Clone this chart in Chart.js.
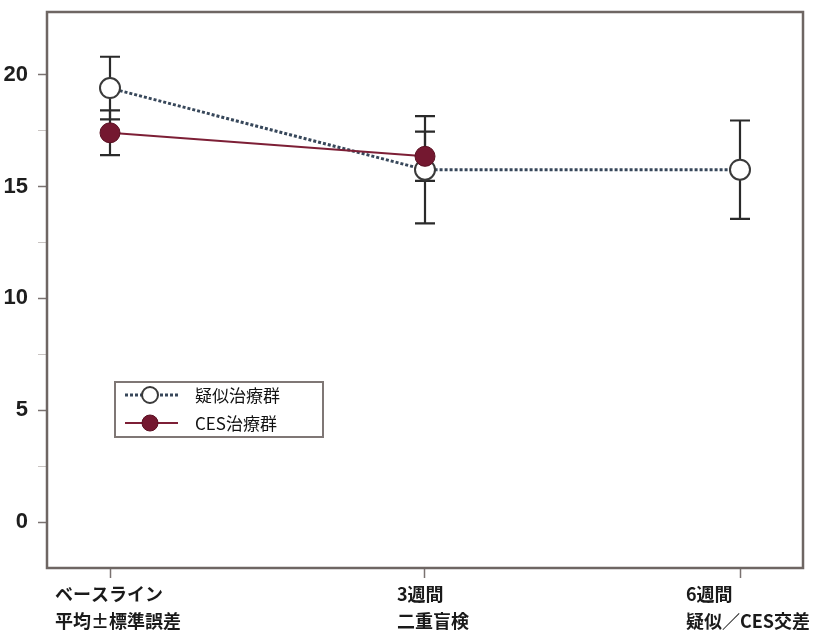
<!DOCTYPE html>
<html>
<head>
<meta charset="utf-8">
<script src="https://cdn.jsdelivr.net/npm/chart.js@4.4.1/dist/chart.umd.min.js"></script>
<style>
  html, body { margin: 0; padding: 0; background: #ffffff; }
  #wrap { width: 821px; height: 630px; position: relative; }
</style>
</head>
<body>
<div id="wrap"><canvas id="c" width="821" height="630"></canvas></div>
<script>
// Time points (two-line axis labels)
const timeLabels = [
  ['ベースライン', '平均±標準誤差'],
  ['3週間', '二重盲検'],
  ['6週間', '疑似／CES交差']
];
const seriesNames = ['疑似治療群', 'CES治療群'];

// Mean scores and standard errors
const shamMean = [19.4, 15.75, 15.75];
const shamSem  = [1.4, 2.4, 2.2];
const cesMean  = [17.4, 16.35];
const cesSem   = [1.0, 1.1];

const yMajorTicks = [0, 5, 10, 15, 20];

const FRAME = '#6e6663';
const SHAM_LINE = '#37475a';
const CES_LINE = '#7d1f36';
const CES_FILL = '#741830';
const BAR = '#2a2a2a';
const CJK = "'Noto Sans CJK JP', 'Noto Sans', sans-serif";
const NUM = "'Liberation Sans Narrow', 'Liberation Sans', Arial, sans-serif";

const toPoints = arr => arr.map((v, i) => ({ x: i, y: v }));

// Error bars (mean ± SE) drawn under the markers
const errorBars = {
  id: 'errorBars',
  beforeDatasetsDraw(chart) {
    const { ctx, scales: { x, y } } = chart;
    const sets = [[shamMean, shamSem], [cesMean, cesSem]];
    ctx.save();
    ctx.strokeStyle = BAR;
    ctx.lineWidth = 2.2;
    const cap = 10;
    sets.forEach(([m, s]) => {
      m.forEach((v, i) => {
        const px = x.getPixelForValue(i);
        const top = y.getPixelForValue(v + s[i]);
        const bot = y.getPixelForValue(v - s[i]);
        ctx.beginPath();
        ctx.moveTo(px, top); ctx.lineTo(px, bot);
        ctx.moveTo(px - cap, top); ctx.lineTo(px + cap, top);
        ctx.moveTo(px - cap, bot); ctx.lineTo(px + cap, bot);
        ctx.stroke();
      });
    });
    ctx.restore();
  }
};

// Frame, category labels and the inset legend
const decorations = {
  id: 'decorations',
  afterDraw(chart) {
    const { ctx, chartArea: a, scales: { x } } = chart;
    ctx.save();
    // plot frame
    ctx.strokeStyle = FRAME;
    ctx.lineWidth = 2.5;
    ctx.strokeRect(a.left, a.top, a.right - a.left, a.bottom - a.top);

    // category labels, left-aligned block roughly centred on each tick
    ctx.fillStyle = '#1a1a1a';
    ctx.font = 'bold 18px ' + CJK;
    ctx.textBaseline = 'middle';
    ctx.textAlign = 'left';
    timeLabels.forEach((lines, i) => {
      const px = x.getPixelForValue(i);
      const w = Math.max(...lines.map(t => ctx.measureText(t).width));
      const left = px - w / 2 + 8;
      lines.forEach((t, k) => ctx.fillText(t, left, a.bottom + 26 + k * 27));
    });

    // legend box
    const lx = a.left + 68, ly = a.top + 370, lw = 208, lh = 55;
    ctx.fillStyle = '#ffffff';
    ctx.fillRect(lx, ly, lw, lh);
    ctx.strokeStyle = '#7f7775';
    ctx.lineWidth = 2;
    ctx.strokeRect(lx, ly, lw, lh);
    const rows = [ly + 13, ly + 41];
    const sx0 = lx + 10, sx1 = lx + 63, cx = lx + 35;
    // sham row
    ctx.strokeStyle = SHAM_LINE;
    ctx.lineWidth = 3;
    ctx.setLineDash([3, 2]);
    ctx.beginPath(); ctx.moveTo(sx0, rows[0]); ctx.lineTo(sx1, rows[0]); ctx.stroke();
    ctx.setLineDash([]);
    ctx.beginPath(); ctx.arc(cx, rows[0], 8, 0, Math.PI * 2);
    ctx.fillStyle = '#ffffff'; ctx.fill();
    ctx.strokeStyle = '#3a3a3a'; ctx.lineWidth = 2; ctx.stroke();
    // CES row
    ctx.strokeStyle = CES_LINE;
    ctx.lineWidth = 2;
    ctx.beginPath(); ctx.moveTo(sx0, rows[1]); ctx.lineTo(sx1, rows[1]); ctx.stroke();
    ctx.beginPath(); ctx.arc(cx, rows[1], 8, 0, Math.PI * 2);
    ctx.fillStyle = CES_FILL; ctx.fill();
    ctx.strokeStyle = '#5a1022'; ctx.lineWidth = 1; ctx.stroke();
    // legend text
    ctx.fillStyle = '#111111';
    ctx.font = '17px ' + CJK;
    ctx.textAlign = 'left';
    seriesNames.forEach((t, k) => ctx.fillText(t, lx + 80, rows[k] + 1));
    ctx.restore();
  }
};

new Chart(document.getElementById('c'), {
  type: 'line',
  data: {
    datasets: [
      {
        label: seriesNames[1],
        data: toPoints(cesMean),
        borderColor: CES_LINE,
        borderWidth: 2,
        pointRadius: 10,
        pointBackgroundColor: CES_FILL,
        pointBorderColor: '#5a1022',
        pointBorderWidth: 1,
        tension: 0
      },
      {
        label: seriesNames[0],
        data: toPoints(shamMean),
        borderColor: SHAM_LINE,
        borderWidth: 3,
        borderDash: [3, 2],
        pointRadius: 10,
        pointBackgroundColor: '#ffffff',
        pointBorderColor: '#3a3a3a',
        pointBorderWidth: 2,
        tension: 0
      }
    ]
  },
  options: {
    responsive: false,
    animation: false,
    layout: { padding: { top: 12, right: 18, left: 0, bottom: 0 } },
    plugins: { legend: { display: false }, tooltip: { enabled: false } },
    scales: {
      x: {
        type: 'linear',
        min: -0.2,
        max: 2.2,
        afterBuildTicks: s => { s.ticks = timeLabels.map((_, i) => ({ value: i })); },
        afterFit: s => { s.height = 62; s.paddingLeft = 0; s.paddingRight = 0; },
        border: { display: false },
        grid: { drawOnChartArea: false, drawTicks: true, tickLength: 10, tickColor: '#7a7270', tickWidth: 1.5 },
        ticks: { display: false }
      },
      y: {
        min: -2.05,
        max: 22.8,
        afterBuildTicks: s => {
          s.ticks = s.ticks.filter(t => Math.abs(t.value / 2.5 - Math.round(t.value / 2.5)) < 1e-6);
        },
        afterFit: s => { s.width = 47; s.paddingTop = 0; s.paddingBottom = 0; },
        border: { display: false },
        grid: {
          drawOnChartArea: false,
          tickLength: 9,
          tickColor: c => (yMajorTicks.includes(c.tick && c.tick.value) ? '#7a7270' : '#c9c4c2'),
          tickWidth: c => (yMajorTicks.includes(c.tick && c.tick.value) ? 1.5 : 1)
        },
        ticks: {
          stepSize: 2.5,
          padding: 10,
          color: '#1e1e1e',
          font: { family: NUM, weight: 'bold', size: 22 },
          callback: v => (yMajorTicks.includes(v) ? String(v) : '')
        }
      }
    }
  },
  plugins: [errorBars, decorations]
});
</script>
</body>
</html>
